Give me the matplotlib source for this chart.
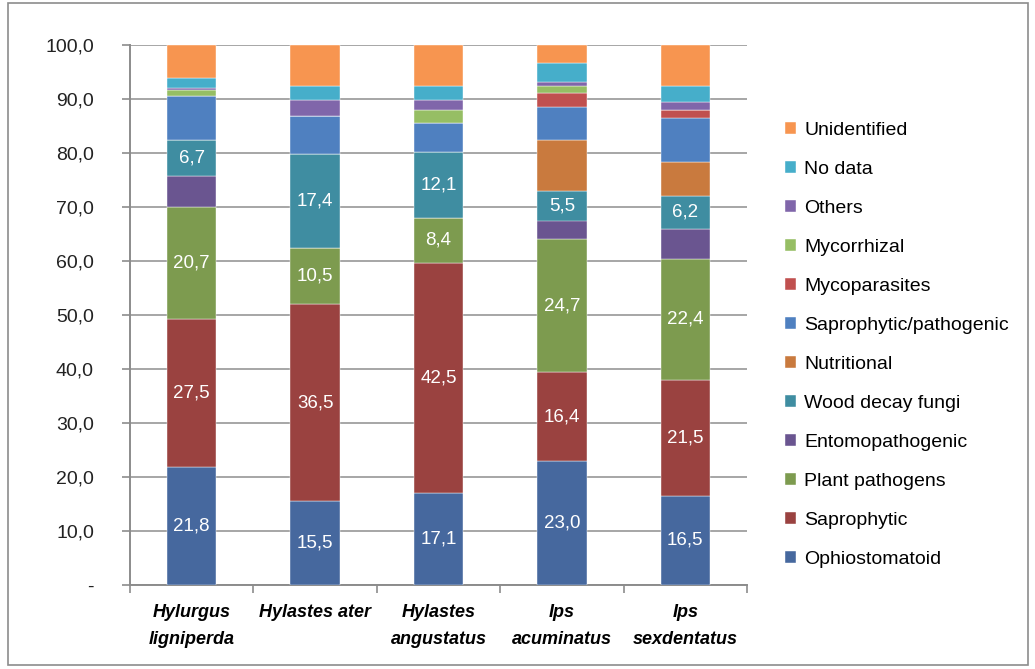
import numpy as np
import matplotlib
matplotlib.use("Agg")
import matplotlib.pyplot as plt
from matplotlib.ticker import FuncFormatter, FixedLocator
from matplotlib.patches import Rectangle

plt.rcParams['font.family'] = ['Liberation Sans', 'DejaVu Sans']

species = ["Hylurgus\nligniperda", "Hylastes ater", "Hylastes\nangustatus",
           "Ips\nacuminatus", "Ips\nsexdentatus"]

# percentages per group, bottom to top of the stack
ophiostomatoid = [21.8, 15.5, 17.1, 23.0, 16.5]
saprophytic = [27.5, 36.5, 42.5, 16.4, 21.5]
plant_pathogens = [20.7, 10.5, 8.4, 24.7, 22.4]
entomopathogenic = [5.7, 0.0, 0.0, 3.4, 5.5]
wood_decay = [6.7, 17.4, 12.1, 5.5, 6.2]
nutritional = [0.0, 0.0, 0.0, 9.4, 6.3]
sapro_pathogenic = [8.2, 6.9, 5.5, 6.1, 8.1]
mycoparasites = [0.0, 0.0, 0.0, 2.7, 1.5]
mycorrhizal = [1.0, 0.0, 2.4, 1.2, 0.0]
others = [0.5, 3.1, 1.8, 0.8, 1.5]
no_data = [1.7, 2.6, 2.6, 3.5, 3.0]
unidentified = [6.2, 7.5, 7.6, 3.3, 7.5]

series = [
    ("Ophiostomatoid", ophiostomatoid, "#46689E", True),
    ("Saprophytic", saprophytic, "#9A4240", True),
    ("Plant pathogens", plant_pathogens, "#7D9B4F", True),
    ("Entomopathogenic", entomopathogenic, "#6A5590", False),
    ("Wood decay fungi", wood_decay, "#3F8DA1", True),
    ("Nutritional", nutritional, "#C97A3E", False),
    ("Saprophytic/pathogenic", sapro_pathogenic, "#4F80C0", False),
    ("Mycoparasites", mycoparasites, "#C0504F", False),
    ("Mycorrhizal", mycorrhizal, "#96BE64", False),
    ("Others", others, "#8066AA", False),
    ("No data", no_data, "#46AECA", False),
    ("Unidentified", unidentified, "#F79550", False),
]

fig = plt.figure(figsize=(10.35, 6.69), dpi=100)
ax = fig.add_axes([130 / 1035, 84 / 669, 617 / 1035, 540 / 669])

x = np.arange(len(species))
bottom = np.zeros(len(species))
handles = []
for name, vals, color, labelled in series:
    vals = np.array(vals)
    bars = ax.bar(x, vals, 0.4, bottom=bottom, color=color, label=name,
                  edgecolor='white', linewidth=0.3, zorder=3)
    handles.append(bars)
    if labelled:
        for xi, b, v in zip(x, bottom, vals):
            ax.text(xi, b + v / 2, f"{v:.1f}".replace('.', ','), ha='center',
                    va='center', color='white', fontsize=13.5, zorder=4)
    bottom += vals

ax.set_xlim(-0.5, len(species) - 0.5)
ax.set_ylim(0, 100)
ax.yaxis.set_major_locator(FixedLocator(np.arange(0, 101, 10)))
ax.yaxis.set_major_formatter(FuncFormatter(
    lambda v, p: '-' if v == 0 else f"{v:.1f}".replace('.', ',')))
ax.grid(axis='y', color='#A6A6A6', linewidth=1.4, zorder=0)

ax.set_xticks(x)
ax.set_xticklabels(species, fontsize=13, style='italic', weight='bold',
                   linespacing=1.7)
ax.set_xticks(np.arange(-0.5, len(species)), minor=True)
ax.tick_params(axis='x', which='major', length=0, pad=14)
ax.tick_params(axis='x', which='minor', length=6, color='#8C8C8C', width=1.2)
ax.tick_params(axis='y', length=6, color='#8C8C8C', width=1.2,
               labelsize=14, pad=20, labelcolor='#222222')

for side in ['top', 'right']:
    ax.spines[side].set_visible(False)
for side in ['left', 'bottom']:
    ax.spines[side].set_color('#8C8C8C')
    ax.spines[side].set_linewidth(1.4)

fig.legend(handles[::-1], [s[0] for s in series][::-1],
           loc='upper left', bbox_to_anchor=(777 / 1035, 1 - 114 / 669),
           frameon=False, fontsize=14, handlelength=0.6, handleheight=0.6,
           handletextpad=0.4, labelspacing=1.13, borderaxespad=0)

fig.patches.append(Rectangle((8 / 1035, 4 / 669), 1020 / 1035, 662 / 669,
                             transform=fig.transFigure, fill=False,
                             edgecolor='#8C8C8C', linewidth=1.2))

fig.savefig("out.png", dpi=100)
